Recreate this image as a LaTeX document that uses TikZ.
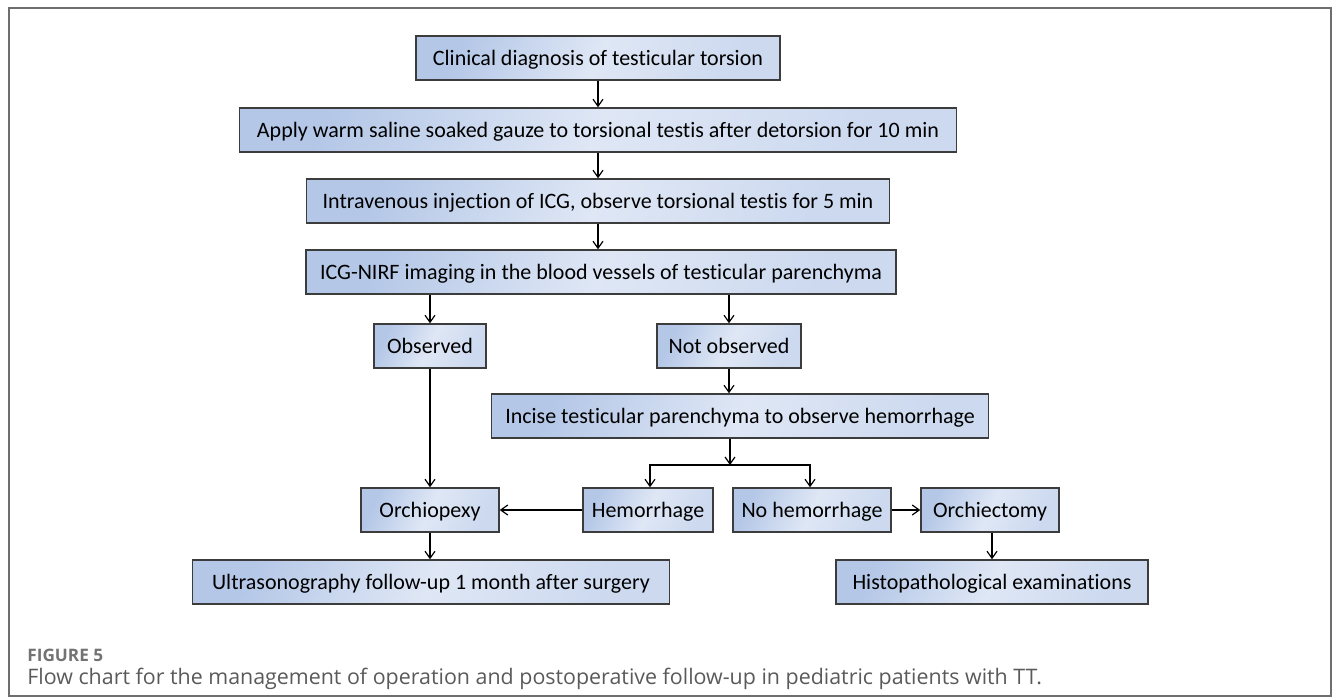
\documentclass[tikz,border=0pt]{standalone}
\usepackage{fontspec}
\setmainfont{Carlito}[Ligatures=NoCommon]
\newfontfamily\capfont{Open Sans}
\usepackage{xcolor}
\definecolor{boxdark}{HTML}{B4C7E7}
\definecolor{boxlight}{HTML}{DFE7F5}
\definecolor{boxedge}{HTML}{3C3C3C}
\definecolor{framegray}{HTML}{6E6E6E}
\definecolor{capgray}{HTML}{5A5A5A}
\usepackage{tikz}
\usetikzlibrary{arrows.meta,positioning}

\begin{document}
\begin{tikzpicture}[
  x=0.5pt, y=-0.5pt, >={Straight Barb[length=3.5pt,width=5pt]},
  stepbox/.style={rectangle, draw=boxedge, line width=0.75pt,
    left color=boxdark, right color=boxdark!45!boxlight, middle color=boxlight,
    shading angle=65, minimum height=22pt, inner sep=0pt,
    text height=8pt, text depth=0.7pt,
    font=\fontsize{11}{13}\selectfont},
  flow/.style={->, line width=0.6pt, black},
]
  \useasboundingbox (0,0) rectangle (1333,698);
  \draw[framegray, line width=0.9pt] (9,8) rectangle (1331,696);

  % main column
  \node[stepbox, minimum width=182pt] (diag) at (598,58) {Clinical diagnosis of testicular torsion};
  \node[stepbox, minimum width=358.5pt] (gauze) at (598,130) {Apply warm saline soaked gauze to torsional testis after detorsion for 10 min};
  \node[stepbox, minimum width=291.5pt] (icg) at (598,201) {Intravenous injection of ICG, observe torsional testis for 5 min};
  \node[stepbox, minimum width=295pt] (nirf) at (601,272) {ICG-NIRF imaging in the blood vessels of testicular parenchyma};

  % branches
  \node[stepbox, minimum width=56pt] (obs) at (430,346) {Observed};
  \node[stepbox, minimum width=72pt] (notobs) at (729,346) {Not observed};
  \node[stepbox, minimum width=248.5pt] (incise) at (740,416) {Incise testicular parenchyma to observe hemorrhage};
  \node[stepbox, minimum width=69pt] (pexy) at (430,510) {Orchiopexy};
  \node[stepbox, minimum width=65pt] (hem) at (648,510) {Hemorrhage};
  \node[stepbox, minimum width=79pt] (nohem) at (812,510) {No hemorrhage};
  \node[stepbox, minimum width=69pt] (ectomy) at (990,510) {Orchiectomy};
  \node[stepbox, minimum width=238.5pt] (us) at (431,582) {Ultrasonography follow-up 1 month after surgery};
  \node[stepbox, minimum width=156pt] (histo) at (992,582) {Histopathological examinations};

  \coordinate (split) at (730,465);

  \draw[flow] (diag) -- (gauze);
  \draw[flow] (gauze) -- (icg);
  \draw[flow] (icg.south) -- (icg.south |- nirf.north);
  \draw[flow] (obs.north |- nirf.south) -- (obs.north);
  \draw[flow] (notobs.north |- nirf.south) -- (notobs.north);
  \draw[flow] (notobs.south) -- (notobs.south |- incise.north);
  \draw[flow] (incise.south -| split) -- (split);
  \draw[flow] (split) -| ([xshift=1pt]hem.north);
  \draw[flow] (split) -| ([xshift=-1pt]nohem.north);
  \draw[flow] (obs) -- (pexy);
  \draw[flow] (hem) -- (pexy);
  \draw[flow] (nohem) -- (ectomy);
  \draw[flow] (pexy.south) -- (pexy.south |- us.north);
  \draw[flow] (ectomy.south -| histo) -- (histo.north);

  % caption
  \node[anchor=base west, inner sep=0pt, text=capgray!85,
    font=\capfont\bfseries\fontsize{8.6}{10}\selectfont] (figno) at (27,661) {FIGURE 5};
  \node[anchor=base west, inner sep=0pt, text=capgray,
    font=\capfont\fontsize{10.7}{12}\selectfont] (caption) at (27,684)
    {Flow chart for the management of operation and postoperative follow-up in pediatric patients with TT.};
\end{tikzpicture}
\end{document}
